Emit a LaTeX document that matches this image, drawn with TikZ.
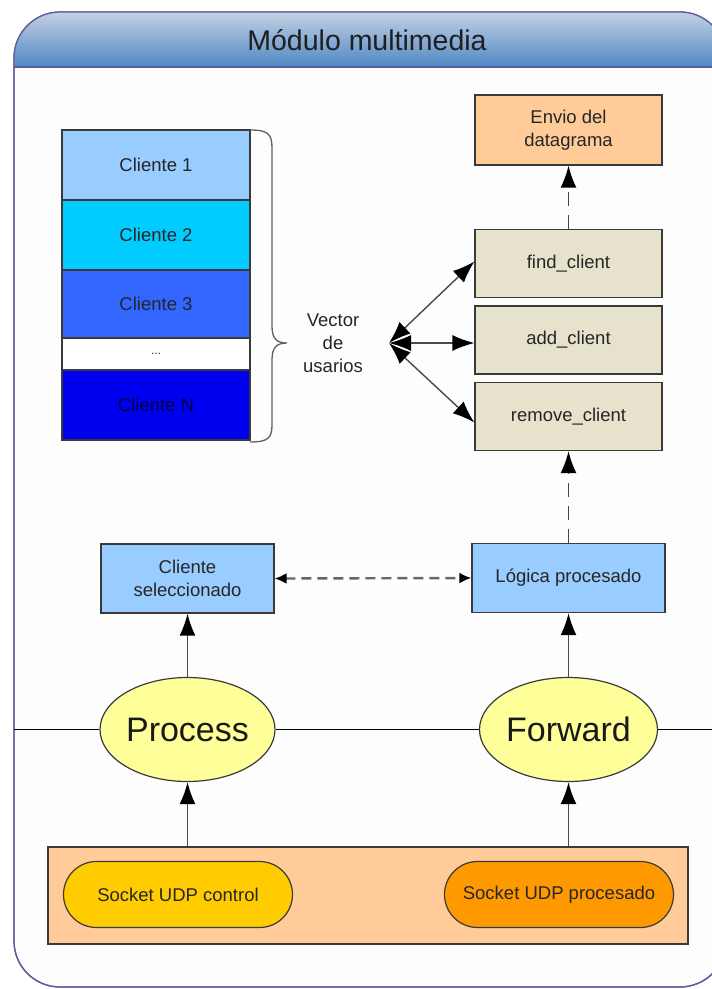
\documentclass[tikz,border=0pt]{standalone}
\usepackage{fontspec}
\setmainfont{Liberation Sans}
\usetikzlibrary{arrows.meta,shapes.geometric,shapes.misc}

\definecolor{framecol}{HTML}{5E5E9C}
\definecolor{bodyfill}{HTML}{FDFDFD}
\definecolor{hdtop}{HTML}{C4D0E3}
\definecolor{hdbot}{HTML}{4F88C4}
\definecolor{edge}{HTML}{3A3A3A}
\definecolor{wire}{HTML}{4A4A4A}
\definecolor{txt}{HTML}{262626}
\definecolor{cliA}{HTML}{99CCFF}
\definecolor{cliB}{HTML}{00CCFF}
\definecolor{cliC}{HTML}{3366FF}
\definecolor{cliN}{HTML}{0000F0}
\definecolor{peach}{HTML}{FFCC99}
\definecolor{khaki}{HTML}{E6E2CC}
\definecolor{skyb}{HTML}{99CCFF}
\definecolor{lemon}{HTML}{FFFF99}
\definecolor{gold}{HTML}{FFCC00}
\definecolor{orng}{HTML}{FF9900}
\definecolor{dashc}{HTML}{444444}

\tikzset{
  bigtip/.tip={Latex[length=22pt,width=16pt,fill=black,color=black]},
  smalltip/.tip={Latex[length=12pt,width=11pt,fill=black,color=black]}
}

\begin{document}
\begin{tikzpicture}[x=1pt,y=1pt,
  lbl/.style={font=\fontsize{18.5}{23}\selectfont, text=txt, align=center},
  box/.style={lbl, draw=edge, line width=1.2pt, inner sep=0pt},
  client/.style={box, minimum width=188, minimum height=70},
  func/.style={box, fill=khaki, minimum width=187, minimum height=68},
  procbox/.style={box, fill=skyb, minimum height=69},
  thread/.style={ellipse, draw=edge, line width=1.2pt, fill=lemon, inner sep=0pt,
    font=\fontsize{34}{40}\selectfont, text=black!90},
  sock/.style={rounded rectangle, draw=edge, line width=1.2pt, lbl, inner sep=0pt,
    minimum width=229, minimum height=66},
  link/.style={draw=wire, line width=1.7pt},
  dlink/.style={draw=dashc, line width=1.7pt, dash pattern=on 14pt off 9pt}
]
\useasboundingbox (0,0) rectangle (712,-989);
\clip (0,0) rectangle (712,-989);

% module frame with its shaded title bar
\draw[framecol, line width=1.3pt, fill=bodyfill, rounded corners=46]
  (14,-12) rectangle (726,-987);
\shade[top color=hdtop, bottom color=hdbot]
  (14,-67) -- (14,-58) arc[start angle=180, end angle=90, radius=46]
  -- (680,-12) arc[start angle=90, end angle=0, radius=46] -- (726,-67) -- cycle;
\draw[framecol, line width=1.3pt, rounded corners=46]
  (14,-12) rectangle (726,-987);
\draw[framecol, line width=1.3pt] (14,-67) -- (726,-67);
\node[font=\fontsize{28.5}{32}\selectfont, text=black!88] (title) at (367,-40) {Módulo multimedia};

% vector of clients
\node[client, fill=cliA] (c1) at (156,-165) {Cliente 1};
\node[client, fill=cliB] (c2) at (156,-235) {Cliente 2};
\node[client, fill=cliC, minimum height=68] (c3) at (156,-304) {Cliente 3};
\node[client, fill=white, minimum height=32, font=\fontsize{12}{14}\selectfont] (cd) at (156,-354) {...};
\node[client, fill=cliN, minimum height=70, text=black!75!blue] (cn) at (156,-405) {Cliente N};

% brace grouping the clients
\draw[edge!80, line width=1.3pt]
  (250,-130) .. controls (268,-130) and (272,-134) .. (272,-148)
  -- (272,-326) .. controls (272,-338) and (276,-343) .. (287,-343)
  .. controls (276,-343) and (272,-348) .. (272,-360)
  -- (272,-425) .. controls (272,-438) and (268,-442) .. (250,-442);

\node[lbl] (vec) at (333,-343) {Vector\\de\\usarios};
\coordinate (hub) at (389,-343);

% client operations
\node[box, fill=peach, minimum width=187, minimum height=70] (env) at (568.5,-130) {Envio del\\datagrama};
\node[func] (find) at (568.5,-263.5) {find\_client};
\node[func] (add) at (568.5,-340) {add\_client};
\node[func] (rem) at (568.5,-416.5) {remove\_client};

\draw[link, line width=1.4pt, bigtip-bigtip] (hub) -- ([yshift=2]find.west);
\draw[link, line width=1.4pt, bigtip-bigtip] (hub) -- ([yshift=-3]add.west);
\draw[link, line width=1.4pt, bigtip-bigtip] (hub) -- ([yshift=-6]rem.west);

\draw[dlink, -bigtip] (find.north) -- (env.south);

% processing logic
\node[procbox, minimum width=173] (sel) at (187.5,-578.5) {Cliente\\seleccionado};
\node[procbox, minimum width=193] (logic) at (568.5,-578) {Lógica procesado};

\draw[dlink, -bigtip] (logic.north) -- (rem.south);
\draw[dlink, draw=black!60, line width=2.4pt, dash pattern=on 10pt off 6pt,
  smalltip-smalltip] (sel.east) -- (logic.west);

% threads on the main line
\node[thread, minimum width=175, minimum height=104] (proc) at (187.5,-729.5) {Process};
\node[thread, minimum width=178, minimum height=104] (fwd) at (568.5,-729.5) {Forward};
\coordinate (lineL) at (14,-729.5);
\coordinate (lineR) at (712,-729.5);
\draw[draw=black, line width=1.3pt] (lineL) -- (proc.west);
\draw[draw=black, line width=1.3pt] (proc.east) -- (fwd.west);
\draw[draw=black, line width=1.3pt] (fwd.east) -- (lineR);

\draw[link, -bigtip] (proc.north) -- (sel.south);
\draw[link, -bigtip] (fwd.north) -- (logic.south);

% sockets
\node[draw=edge, line width=1.3pt, fill=peach, minimum width=640, minimum height=97, inner sep=0pt]
  (socks) at (368,-895.5) {};
\node[sock, fill=gold] (sctl) at (178,-894.5) {Socket UDP control};
\node[sock, fill=orng] (sproc) at (559,-894.5) {Socket UDP procesado};

\draw[link, -bigtip] (socks.north -| proc.south) -- (proc.south);
\draw[link, -bigtip] (socks.north -| fwd.south) -- (fwd.south);
\end{tikzpicture}
\end{document}
